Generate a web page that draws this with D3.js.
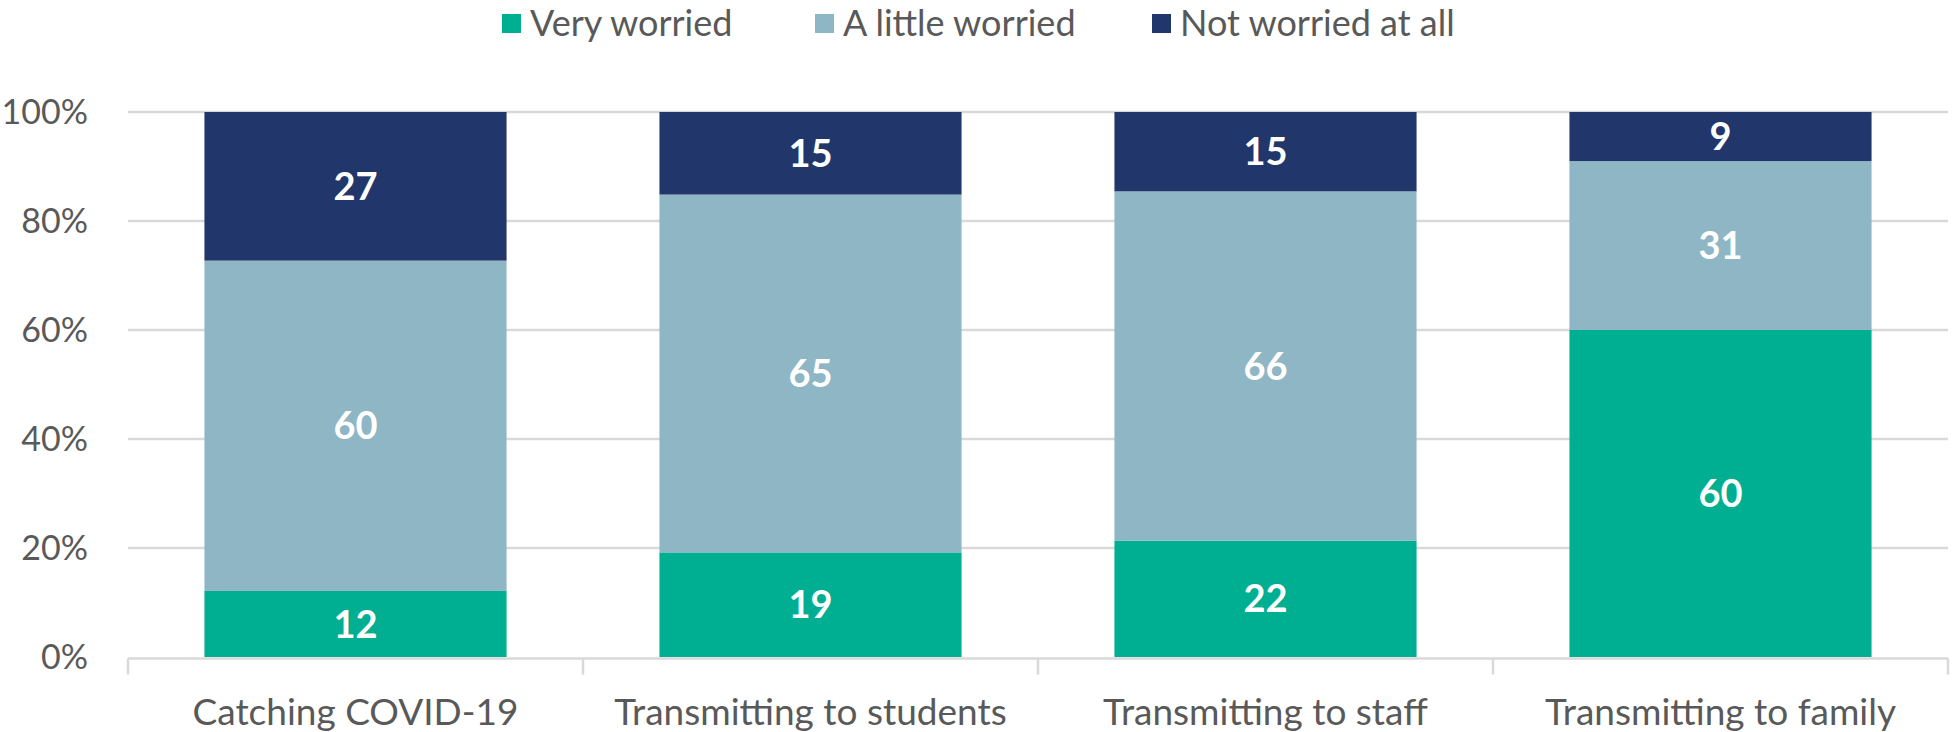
<!DOCTYPE html>
<html>
<head>
<meta charset="utf-8">
<script src="https://cdn.jsdelivr.net/npm/d3@7"></script>
<style>
  html, body { margin: 0; padding: 0; background: #fff; }
  svg { display: block; }
  text { font-family: Lato, "Open Sans", sans-serif; }
</style>
</head>
<body>
<svg id="chart" width="1952" height="732"></svg>
<script>
const categories = ["Catching COVID-19", "Transmitting to students", "Transmitting to staff", "Transmitting to family"];
const seriesNames = ["Very worried", "A little worried", "Not worried at all"];
const veryWorried = [12, 19, 22, 60];
const littleWorried = [60, 65, 66, 31];
const notWorried = [27, 15, 15, 9];
const yTicks = [0, 0.2, 0.4, 0.6, 0.8, 1.0];
const colors = ["#00AF91", "#8EB6C5", "#21376B"];

const rows = categories.map((c, i) => ({
  cat: c,
  "Very worried": veryWorried[i],
  "A little worried": littleWorried[i],
  "Not worried at all": notWorried[i]
}));

const svg = d3.select("#chart");
const margin = { left: 128, right: 4, top: 112, bottom: 75 };
const W = 1952, H = 732;

const x = d3.scaleBand().domain(categories)
  .range([margin.left, W - margin.right])
  .paddingInner(0.336).paddingOuter(0.168);
const y = d3.scaleLinear().domain([0, 1]).range([H - margin.bottom, margin.top]);
const color = d3.scaleOrdinal().domain(seriesNames).range(colors);

const stack = d3.stack().keys(seriesNames).offset(d3.stackOffsetExpand);
const stacked = stack(rows);

// gridlines
svg.append("g").selectAll("line").data(yTicks.filter(t => t > 0)).join("line")
  .attr("x1", margin.left).attr("x2", W - margin.right)
  .attr("y1", d => y(d)).attr("y2", d => y(d))
  .attr("stroke", "#D9D9D9").attr("stroke-width", 2.5);

// y labels
svg.append("g").selectAll("text").data(yTicks).join("text")
  .attr("x", 88).attr("y", d => y(d))
  .attr("dy", "0.36em")
  .attr("text-anchor", "end")
  .attr("font-size", 34)
  .attr("fill", "#595959")
  .text(d => d3.format(".0%")(d));

// bars
const groups = svg.append("g").selectAll("g").data(stacked).join("g")
  .attr("fill", d => color(d.key));
groups.selectAll("rect").data(d => d).join("rect")
  .attr("x", d => x(d.data.cat))
  .attr("width", x.bandwidth())
  .attr("y", d => y(d[1]))
  .attr("height", d => y(d[0]) - y(d[1]));

// value labels
const labG = svg.append("g");
stacked.forEach(s => {
  s.forEach(d => {
    labG.append("text")
      .attr("x", x(d.data.cat) + x.bandwidth() / 2)
      .attr("y", (y(d[0]) + y(d[1])) / 2)
      .attr("dy", "0.36em")
      .attr("text-anchor", "middle")
      .attr("font-size", 38)
      .attr("font-weight", "bold")
      .attr("fill", "#ffffff")
      .text(d.data[s.key]);
  });
});

// x axis line and ticks
const base = y(0) + 1.5;
svg.append("line")
  .attr("x1", margin.left).attr("x2", W - margin.right)
  .attr("y1", base).attr("y2", base)
  .attr("stroke", "#D9D9D9").attr("stroke-width", 2.5);
const bounds = categories.map(c => x(c) - x.step() * x.paddingInner() / 2);
bounds.push(x(categories[categories.length - 1]) + x.bandwidth() + x.step() * x.paddingInner() / 2);
svg.append("g").selectAll("line").data(bounds).join("line")
  .attr("x1", d => d).attr("x2", d => d)
  .attr("y1", base).attr("y2", base + 16)
  .attr("stroke", "#D9D9D9").attr("stroke-width", 2.5);

// x labels
svg.append("g").selectAll("text").data(categories).join("text")
  .attr("x", d => x(d) + x.bandwidth() / 2)
  .attr("y", 725)
  .attr("text-anchor", "middle")
  .attr("font-size", 37)
  .attr("fill", "#595959")
  .text(d => d);

// legend
const legendX = [502, 815, 1152];
const lg = svg.append("g").selectAll("g").data(seriesNames).join("g")
  .attr("transform", (d, i) => `translate(${legendX[i]},0)`);
lg.append("rect").attr("x", 0).attr("y", 14).attr("width", 19).attr("height", 19)
  .attr("fill", d => color(d));
lg.append("text").attr("x", 28).attr("y", 36)
  .attr("font-size", 36).attr("fill", "#595959").text(d => d);
</script>
</body>
</html>
